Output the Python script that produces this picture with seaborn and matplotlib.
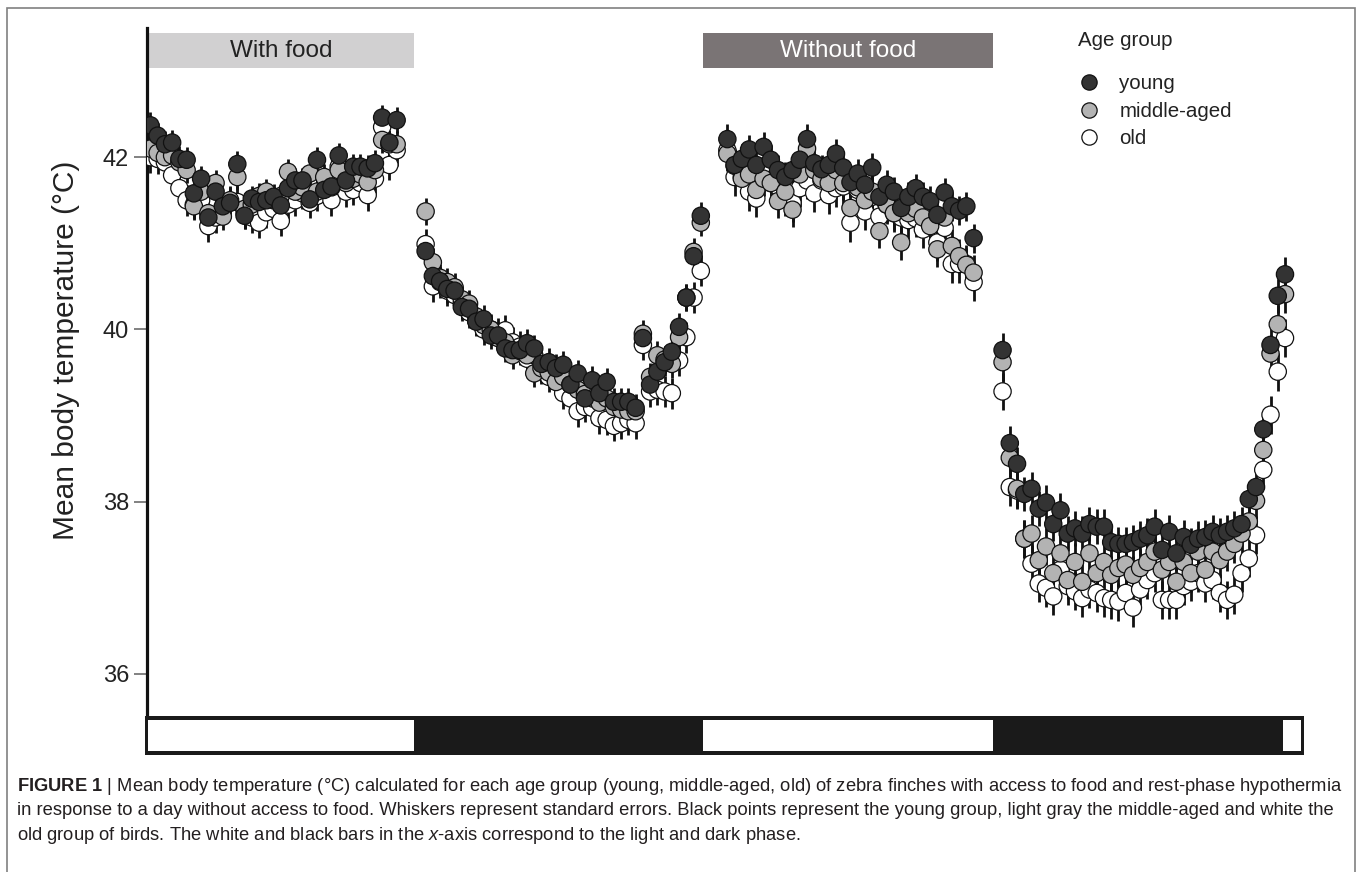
import numpy as np
import pandas as pd
import matplotlib
matplotlib.use("Agg")
import matplotlib.pyplot as plt
import seaborn as sns
from matplotlib.patches import Rectangle
from matplotlib.lines import Line2D

# ---------------- data ----------------
groups = ["young", "middle-aged", "old"]
group_colors = {"young": "#333333", "middle-aged": "#b3b3b3", "old": "#ffffff"}

# each segment: first sample time (h) and sampling step (h)
seg_start = [0.1, 11.5, 24.0, 35.4]
seg_step = 0.3

young_s1 = [42.37, 42.25, 42.15, 42.17, 41.98, 41.97, 41.58, 41.75, 41.30, 41.60,
            41.43, 41.47, 41.92, 41.32, 41.52, 41.48, 41.50, 41.54, 41.44, 41.64,
            41.73, 41.73, 41.51, 41.97, 41.62, 41.66, 42.02, 41.73, 41.89, 41.89,
            41.87, 41.93, 42.46, 42.17, 42.43]
mid_s1 = [42.10, 42.05, 42.00, 42.02, 41.94, 41.85, 41.43, 41.60, 41.35, 41.70,
          41.31, 41.50, 41.77, 41.40, 41.45, 41.55, 41.60, 41.50, 41.55, 41.83,
          41.60, 41.65, 41.81, 41.60, 41.77, 41.65, 41.85, 41.70, 41.75, 41.80,
          41.71, 41.85, 42.20, 42.15, 42.15]
old_s1 = [42.00, 41.98, 41.94, 41.79, 41.64, 41.50, 41.45, 41.50, 41.20, 41.30,
          41.40, 41.48, 41.48, 41.35, 41.30, 41.24, 41.36, 41.40, 41.26, 41.45,
          41.50, 41.58, 41.47, 41.55, 41.66, 41.50, 41.89, 41.60, 41.62, 41.70,
          41.56, 41.75, 42.35, 41.91, 42.08]

young_s2 = [40.91, 40.62, 40.56, 40.47, 40.45, 40.26, 40.24, 40.09, 40.12, 39.93,
            39.93, 39.78, 39.76, 39.76, 39.84, 39.78, 39.60, 39.62, 39.55, 39.59,
            39.36, 39.49, 39.20, 39.41, 39.26, 39.39, 39.16, 39.16, 39.16, 39.09,
            39.90, 39.36, 39.51, 39.62, 39.74, 40.03, 40.37, 40.85, 41.32]
mid_s2 = [41.37, 40.78, 40.60, 40.55, 40.49, 40.35, 40.30, 40.15, 40.05, 40.00,
          39.90, 39.85, 39.70, 39.75, 39.70, 39.49, 39.55, 39.50, 39.39, 39.45,
          39.36, 39.30, 39.25, 39.20, 39.15, 39.20, 39.10, 39.07, 39.05, 39.05,
          39.95, 39.45, 39.70, 39.65, 39.60, 39.91, 40.37, 40.90, 41.24]
old_s2 = [40.99, 40.50, 40.55, 40.45, 40.40, 40.30, 40.20, 40.10, 40.00, 40.00,
          39.95, 39.99, 39.85, 39.80, 39.66, 39.70, 39.55, 39.45, 39.40, 39.26,
          39.20, 39.05, 39.10, 39.09, 38.97, 38.95, 38.88, 38.91, 38.95, 38.91,
          39.82, 39.28, 39.30, 39.28, 39.26, 39.64, 39.91, 40.37, 40.68]

young_s3 = [42.21, 41.91, 41.98, 42.09, 41.91, 42.12, 41.97, 41.85, 41.77, 41.85,
            41.97, 42.21, 41.93, 41.86, 41.91, 42.04, 41.88, 41.71, 41.81, 41.68,
            41.88, 41.54, 41.68, 41.60, 41.41, 41.54, 41.64, 41.54, 41.49, 41.33,
            41.59, 41.43, 41.38, 41.43, 41.06]
mid_s3 = [42.04, 41.90, 41.75, 41.80, 41.62, 41.75, 41.70, 41.49, 41.60, 41.39,
          41.80, 42.10, 41.85, 41.75, 41.70, 41.85, 41.70, 41.41, 41.65, 41.50,
          41.60, 41.14, 41.45, 41.35, 41.01, 41.35, 41.40, 41.30, 41.20, 40.93,
          41.30, 40.97, 40.85, 40.75, 40.66]
old_s3 = [42.08, 41.77, 41.77, 41.60, 41.52, 41.83, 41.70, 41.66, 41.54, 41.47,
          41.64, 41.73, 41.58, 41.73, 41.56, 41.64, 41.66, 41.24, 41.62, 41.37,
          41.54, 41.31, 41.45, 41.35, 41.30, 41.27, 41.29, 41.16, 41.25, 41.01,
          41.18, 40.76, 40.76, 40.76, 40.55]

young_s4 = [39.76, 38.68, 38.44, 38.09, 38.15, 37.92, 37.99, 37.74, 37.90, 37.63,
            37.69, 37.63, 37.74, 37.71, 37.71, 37.53, 37.51, 37.51, 37.53, 37.57,
            37.61, 37.71, 37.44, 37.65, 37.40, 37.59, 37.50, 37.57, 37.59, 37.65,
            37.61, 37.65, 37.69, 37.74, 38.03, 38.17, 38.84, 39.82, 40.39, 40.64]
mid_s4 = [39.62, 38.51, 38.15, 37.57, 37.63, 37.32, 37.48, 37.17, 37.40, 37.09,
          37.30, 37.07, 37.40, 37.17, 37.30, 37.15, 37.23, 37.27, 37.15, 37.23,
          37.30, 37.42, 37.21, 37.30, 37.07, 37.30, 37.17, 37.42, 37.21, 37.42,
          37.32, 37.42, 37.51, 37.63, 37.77, 38.01, 38.60, 39.72, 40.06, 40.41]
old_s4 = [39.28, 38.17, 38.13, 37.57, 37.28, 37.05, 37.00, 36.90, 37.21, 37.02,
          36.96, 36.88, 36.98, 36.94, 36.88, 36.86, 36.84, 36.94, 36.77, 36.98,
          37.09, 37.17, 36.86, 36.86, 36.86, 37.02, 37.07, 37.17, 37.05, 37.09,
          36.94, 36.86, 36.92, 37.17, 37.34, 37.61, 38.37, 39.01, 39.51, 39.90]

series = {
    "young": [young_s1, young_s2, young_s3, young_s4],
    "middle-aged": [mid_s1, mid_s2, mid_s3, mid_s4],
    "old": [old_s1, old_s2, old_s3, old_s4],
}
# standard errors per segment
se = {
    "young": [0.15, 0.16, 0.17, 0.20],
    "middle-aged": [0.15, 0.16, 0.20, 0.22],
    "old": [0.18, 0.18, 0.22, 0.22],
}

light_on = [0.0, 23.0, 47.0]
light_off = [11.0, 35.0, 47.76]
food_labels = ["With food", "Without food"]
food_spans = [(0.0, 11.0), (23.0, 35.0)]
yticks = [36, 38, 40, 42]

# ---------------- build table ----------------
rows = []
for g in ["old", "middle-aged", "young"]:
    for s, vals in enumerate(series[g]):
        t = seg_start[s] + seg_step * np.arange(len(vals))
        for ti, v in zip(t, vals):
            rows.append({"hour": ti, "temp": v, "se": se[g][s], "group": g})
df = pd.DataFrame(rows)

# ---------------- figure ----------------
sns.set_theme(style="white")
plt.rcParams["font.family"] = ["Liberation Sans", "DejaVu Sans"]
plt.rcParams["mathtext.fontset"] = "custom"
plt.rcParams["mathtext.rm"] = "Liberation Sans"
plt.rcParams["mathtext.bf"] = "Liberation Sans:bold"
plt.rcParams["mathtext.it"] = "Liberation Sans:italic"

W, H = 1360, 872
fig = plt.figure(figsize=(W / 100, H / 100), dpi=100)
fig.patch.set_facecolor("white")

px_per_h = 24.14
L, R, T, B = 146.5, 1304.0, 28.0, 717.0
xmin = (L - 148.0) / px_per_h
xmax = (R - 148.0) / px_per_h
ax = fig.add_axes([L / W, 1 - B / H, (R - L) / W, (B - T) / H])
ax.set_xlim(xmin, xmax)
ax.set_ylim(35.5, 43.5)

# error bars
for g in groups:
    d = df[df.group == g]
    ax.errorbar(d.hour, d.temp, yerr=d.se, fmt="none", ecolor="#111111",
                elinewidth=2.0, capsize=0, zorder=2)

sns.scatterplot(data=df, x="hour", y="temp", hue="group", hue_order=groups,
                palette=group_colors, s=155, edgecolor="#111111", linewidth=0.9,
                legend=False, ax=ax, zorder=3)

ax.set_xlabel("")
ax.set_ylabel("")
ax.set_xticks([])
ax.set_yticks(yticks)
ax.set_yticklabels([str(v) for v in yticks], fontsize=17, color="#222222")
ax.tick_params(axis="y", direction="out", length=9.5, width=1.3, color="#777777",
               pad=3, left=True)
for sp in ["top", "right", "bottom"]:
    ax.spines[sp].set_visible(False)
ax.spines["left"].set_linewidth(2.3)
ax.spines["left"].set_color("#111111")

fig.text(66 / W, 1 - 350 / H, "Mean body temperature (°C)", rotation=90,
         ha="center", va="center", fontsize=21.5, color="#222222")

# food condition bars
bar_colors = ["#d1d0d1", "#7a7475"]
text_colors = ["#222222", "#ffffff"]
y_lo, y_hi = 43.03, 43.44
for (a, b), lab, c, tc in zip(food_spans, food_labels, bar_colors, text_colors):
    ax.add_patch(Rectangle((a, y_lo), b - a, y_hi - y_lo, facecolor=c,
                           edgecolor="none", clip_on=False, zorder=1))
    ax.text((a + b) / 2, (y_lo + y_hi) / 2, lab, ha="center", va="center",
            fontsize=17.5, color=tc, zorder=2)

# light/dark bar
bx0, bx1, by0, by1 = 145.0, 1304.0, 716.0, 755.0
bax = fig.add_axes([bx0 / W, 1 - by1 / H, (bx1 - bx0) / W, (by1 - by0) / H])
bax.set_xlim((bx0 - 148.0) / px_per_h, (bx1 - 148.0) / px_per_h)
bax.set_ylim(0, 1)
bax.axis("off")
bax.add_patch(Rectangle((0, 0), 1, 1, transform=bax.transAxes,
                        facecolor="#1a1a1a", edgecolor="none"))
for a, b in zip(light_on, light_off):
    bax.add_patch(Rectangle((a, 0.09), b - a, 0.82, facecolor="white",
                            edgecolor="none"))

# legend
fig.text(1078 / W, 1 - 41 / H, "Age group", ha="left", va="center",
         fontsize=14.8, color="#222222")
handles = [Line2D([], [], marker="o", linestyle="none", markersize=11.0,
                  markerfacecolor=group_colors[g], markeredgecolor="#111111",
                  markeredgewidth=0.9) for g in groups]
leg = fig.legend(handles, groups, loc="upper left",
                 bbox_to_anchor=(1075 / W, 1 - 70 / H), frameon=False,
                 fontsize=14.8, handletextpad=0.95, labelspacing=0.42,
                 handlelength=1.0, borderpad=0.2, borderaxespad=0)
for t_ in leg.get_texts():
    t_.set_color("#222222")

# caption
cap_lines = [
    r"$\mathbf{FIGURE\ 1}$ | Mean body temperature (°C) calculated for each age group (young, middle-aged, old) of zebra finches with access to food and rest-phase hypothermia",
    "in response to a day without access to food. Whiskers represent standard errors. Black points represent the young group, light gray the middle-aged and white the",
    r"old group of birds. The white and black bars in the $\mathit{x}$-axis correspond to the light and dark phase.",
]
for i, line in enumerate(cap_lines):
    fig.text(17 / W, 1 - (786 + 24.5 * i) / H, line, ha="left", va="center",
             fontsize=13.2, color="#231f20")

# figure frame
fig.add_artist(Rectangle((7 / W, -0.02), (1355 - 7) / W, 1 - 8 / H + 0.02,
                         transform=fig.transFigure, fill=False,
                         edgecolor="#808080", linewidth=1.2))

fig.savefig("out.png", dpi=100, facecolor="white")
